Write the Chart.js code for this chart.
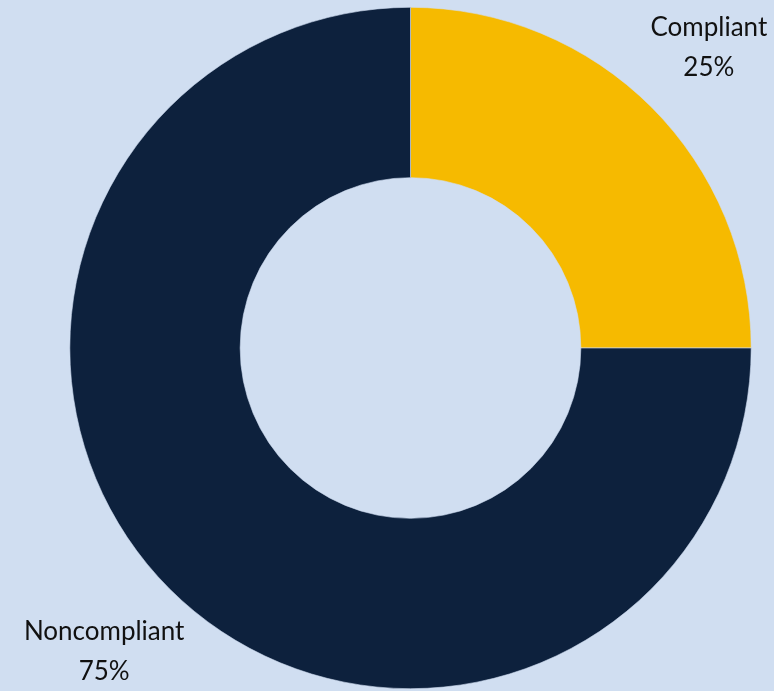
<!DOCTYPE html>
<html>
<head>
<meta charset="utf-8">
<script src="https://cdn.jsdelivr.net/npm/chart.js@4/dist/chart.umd.min.js"></script>
<style>
  html, body { margin: 0; padding: 0; background: #D0DEF1; }
  #wrap { width: 774px; height: 691px; }
</style>
</head>
<body>
<div id="wrap"><canvas id="chart"></canvas></div>
<script>
const labels = ["Compliant", "Noncompliant"];
const values = [25, 75];
const colors = ["#F6BA00", "#0D213D"];

// draws "Name / pct%" outside each slice along its mid angle
const outsideLabels = {
    id: "outsideLabels",
    afterDraw(chart) {
        const ctx = chart.ctx;
        const meta = chart.getDatasetMeta(0);
        const total = values.reduce((a, b) => a + b, 0);
        ctx.save();
        ctx.fillStyle = "#111111";
        ctx.font = "26px Lato, 'Noto Sans', sans-serif";
        ctx.textAlign = "center";
        ctx.textBaseline = "alphabetic";
        meta.data.forEach(function (arc, i) {
            const mid = (arc.startAngle + arc.endAngle) / 2;
            const r = arc.outerRadius * 1.255;
            const x = arc.x + Math.cos(mid) * r - 4;
            const y = arc.y + Math.sin(mid) * r;
            const pct = Math.round(values[i] / total * 100) + "%";
            ctx.fillText(labels[i], x, y - 10);
            ctx.fillText(pct, x, y + 30);
        });
        ctx.restore();
    }
};

new Chart(document.getElementById("chart"), {
    type: "doughnut",
    data: {
        labels: labels,
        datasets: [{
            data: values,
            backgroundColor: colors,
            borderColor: "#D0DEF1",
            borderWidth: 0.6
        }]
    },
    options: {
        responsive: true,
        maintainAspectRatio: false,
        animation: false,
        cutout: "50%",
        layout: { padding: { left: 47, right: 0, top: 7, bottom: 2 } },
        plugins: {
            legend: { display: false },
            tooltip: { enabled: false }
        }
    },
    plugins: [outsideLabels]
});
</script>
</body>
</html>
